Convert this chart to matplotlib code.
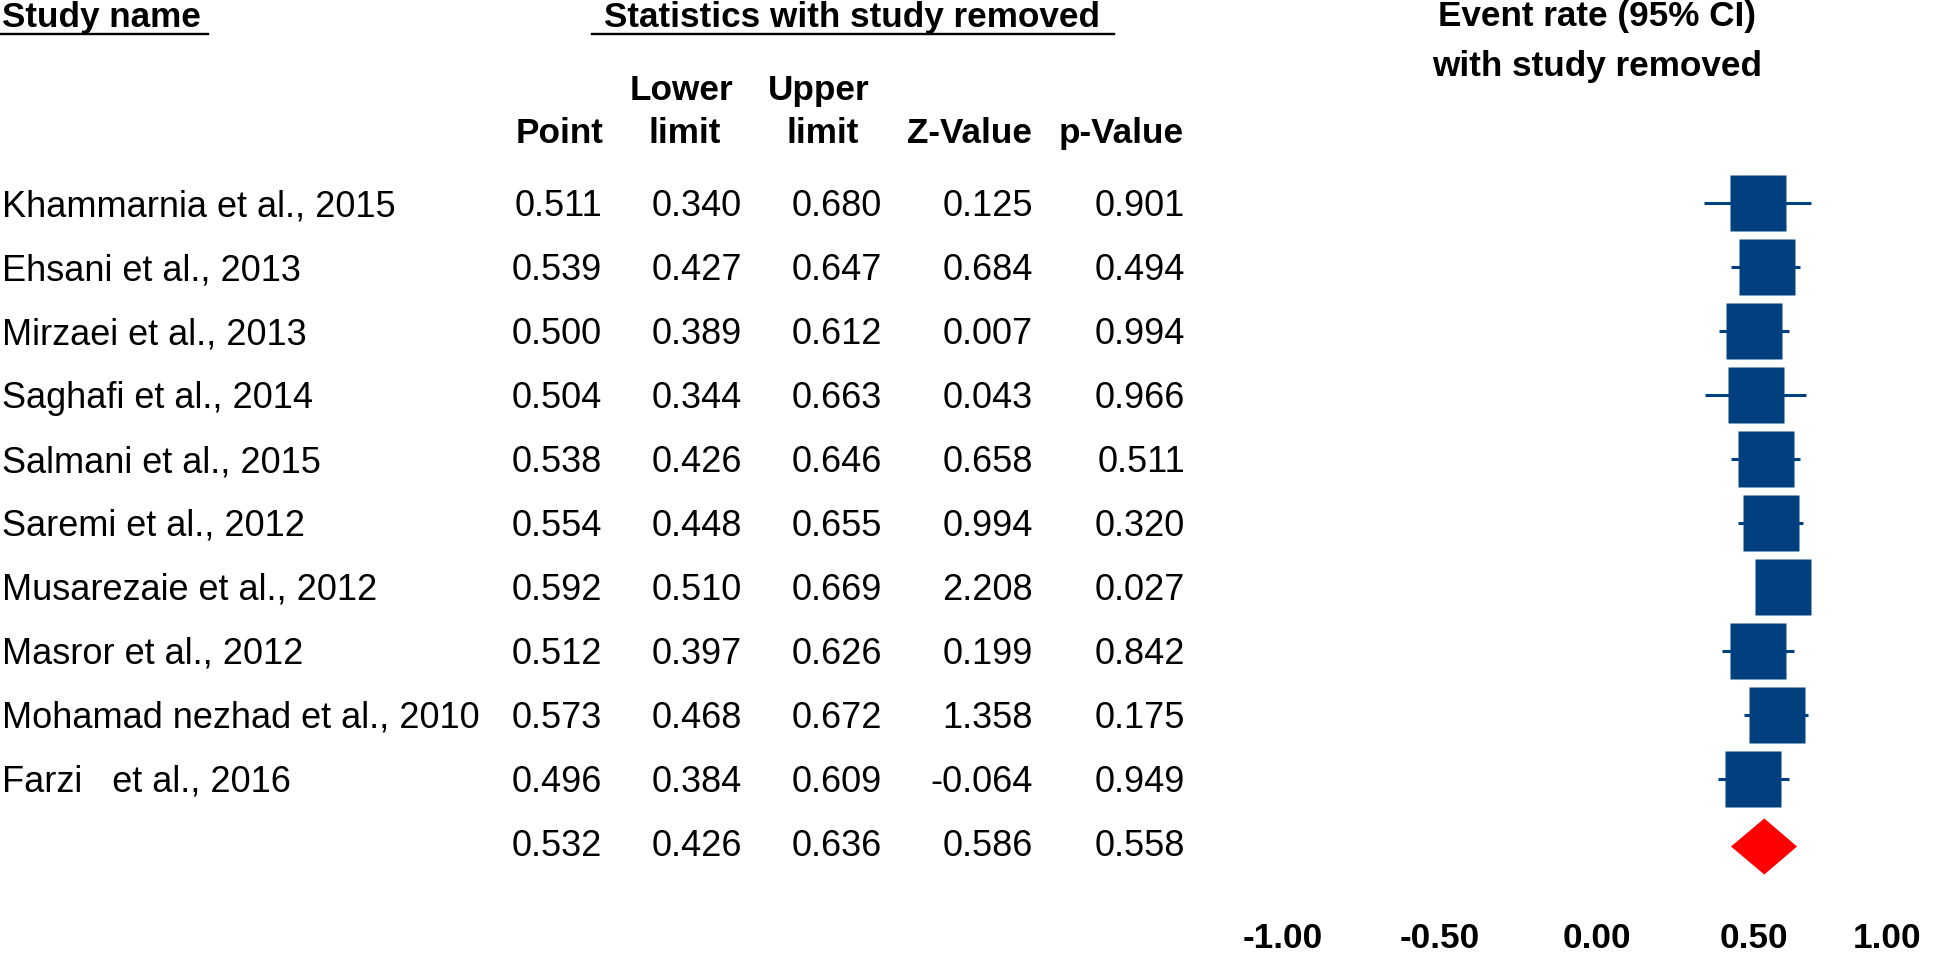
import matplotlib.pyplot as plt
from matplotlib.transforms import ScaledTranslation

plt.rcParams['font.family'] = ['Liberation Sans', 'DejaVu Sans']

studies = ['Khammarnia et al., 2015', 'Ehsani et al., 2013', 'Mirzaei et al., 2013',
           'Saghafi et al., 2014', 'Salmani et al., 2015', 'Saremi et al., 2012',
           'Musarezaie et al., 2012', 'Masror et al., 2012',
           'Mohamad nezhad et al., 2010', 'Farzi   et al., 2016']
point = [0.511, 0.539, 0.500, 0.504, 0.538, 0.554, 0.592, 0.512, 0.573, 0.496]
lower = [0.340, 0.427, 0.389, 0.344, 0.426, 0.448, 0.510, 0.397, 0.468, 0.384]
upper = [0.680, 0.647, 0.612, 0.663, 0.646, 0.655, 0.669, 0.626, 0.672, 0.609]
z_value = [0.125, 0.684, 0.007, 0.043, 0.658, 0.994, 2.208, 0.199, 1.358, -0.064]
p_value = [0.901, 0.494, 0.994, 0.966, 0.511, 0.320, 0.027, 0.842, 0.175, 0.949]

pooled_point = 0.532
pooled_lower = 0.426
pooled_upper = 0.636
pooled_z = 0.586
pooled_p = 0.558

ticks = [-1.0, -0.5, 0.0, 0.5, 1.0]

BLUE = '#00407F'
W, H = 1946, 956
ROW0, STEP = 202.5, 64.0   # pixel centre of first row, row height
REG, BOLD = 26, 25.3


def row_of(px):
    # pixel y -> row units
    return (px - ROW0) / STEP


fig = plt.figure(figsize=(W / 100, H / 100), dpi=100)

# text table, x in pixels, y in rows
tab = fig.add_axes([0, 0, 1, 1])
tab.set_xlim(0, W)
tab.set_ylim(row_of(H), row_of(0))
tab.axis('off')

# forest plot
fb = 921
ax = fig.add_axes([1282.5 / W, (H - fb) / H, 629 / W, fb / H])
ax.set_xlim(-1, 1)
ax.set_ylim(row_of(fb), row_of(0))
for s in ax.spines.values():
    s.set_visible(False)
ax.set_yticks([])
ax.set_xticks(ticks, labels=[f'{t:.2f}' for t in ticks])
ax.tick_params(axis='x', length=0, pad=1, labelsize=BOLD)
for lbl in ax.get_xticklabels():
    lbl.set_fontweight('bold')
# last label pulled in so it stays inside the picture
last = ax.get_xticklabels()[-1]
last.set_transform(last.get_transform() + ScaledTranslation(-0.24, 0, fig.dpi_scale_trans))

# headers
hdr = dict(fontsize=BOLD, fontweight='bold', va='baseline')
tab.text(2, row_of(27), 'Study name', ha='left', **hdr)
tab.plot([0, 208], [row_of(34)] * 2, color='black', lw=1.7)
tab.text(852, row_of(27), 'Statistics with study removed', ha='center', **hdr)
tab.plot([592, 1114], [row_of(34)] * 2, color='black', lw=1.7)
tab.text(603, row_of(143), 'Point', ha='right', **hdr)
tab.text(681, row_of(100), 'Lower', ha='center', **hdr)
tab.text(685, row_of(143), 'limit', ha='center', **hdr)
tab.text(819, row_of(100), 'Upper', ha='center', **hdr)
tab.text(823, row_of(143), 'limit', ha='center', **hdr)
tab.text(1032, row_of(143), 'Z-Value', ha='right', **hdr)
tab.text(1184, row_of(143), 'p-Value', ha='right', **hdr)
ax.text(0, row_of(26), 'Event rate (95% CI)', ha='center', **hdr)
ax.text(0, row_of(76), 'with study removed', ha='center', **hdr)

# table rows
col_right = [602, 742, 882, 1033, 1185]
base = 13.5 / STEP
rows = list(range(len(studies)))
for i in rows:
    tab.text(2, i + base, studies[i], fontsize=REG, ha='left', va='baseline')
    vals = [point[i], lower[i], upper[i], z_value[i], p_value[i]]
    for x, v in zip(col_right, vals):
        tab.text(x, i + base, f'{v:.3f}', fontsize=REG, ha='right', va='baseline')

r_pool = len(studies)
pooled = [pooled_point, pooled_lower, pooled_upper, pooled_z, pooled_p]
for x, v in zip(col_right, pooled):
    tab.text(x, r_pool + base, f'{v:.3f}', fontsize=REG, ha='right', va='baseline')

# markers
ax.hlines(rows, lower, upper, color=BLUE, lw=2.2, zorder=2)
ax.plot(point, rows, linestyle='none', marker='s', ms=41, color=BLUE,
        mec='none', zorder=3)
h = 28 / STEP
yc = r_pool + 4 / STEP
ax.fill([pooled_lower, pooled_point, pooled_upper, pooled_point],
        [yc, yc - h, yc, yc + h], color='red', lw=0, zorder=3)

fig.savefig('out.png', dpi=100)
